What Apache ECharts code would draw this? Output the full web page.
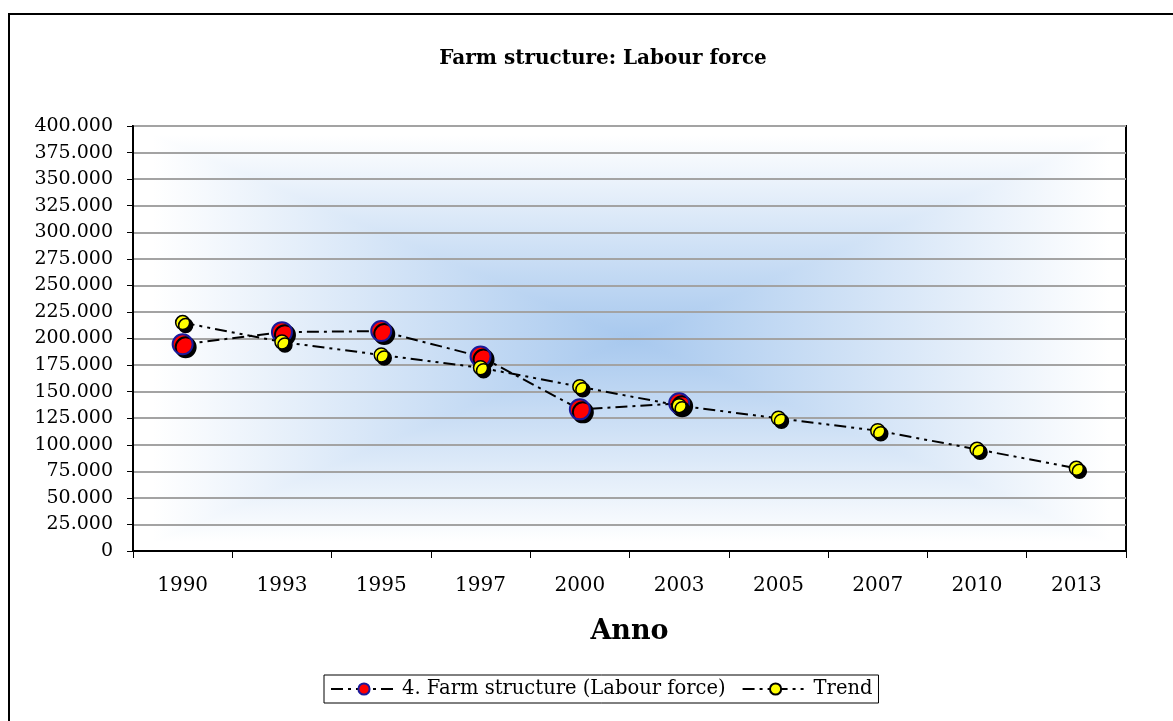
<!DOCTYPE html>
<html>
<head>
<meta charset="utf-8">
<script src="https://cdn.jsdelivr.net/npm/echarts@6/dist/echarts.min.js"></script>
<style>
html,body{margin:0;padding:0;background:#fff;}
#chart{width:1173px;height:721px;}
</style>
</head>
<body>
<div id="chart"></div>
<script>
// ---- data ----
var years = ['1990','1993','1995','1997','2000','2003','2005','2007','2010','2013'];
var labourForce = [194500, 206000, 207000, 183000, 133300, 139000, null, null, null, null];
var trend = [215000, 196700, 184500, 172500, 154600, 136800, 124900, 113200, 95700, 77800];
var yTicks = {min: 0, max: 400000, interval: 25000};
var titleText = 'Farm structure: Labour force';
var xName = 'Anno';
var seriesNames = ['4. Farm structure (Labour force)', 'Trend'];

// ---- layout ----
var G = {left: 133, top: 126, width: 993, height: 425};
var FONT = '"DejaVu Serif", "Liberation Serif", serif';
var BLUE = '#A7C8EE';

function fmt(v) {
  return String(v).replace(/\B(?=(\d{3})+(?!\d))/g, '.');
}

// rectangular "path" gradient built from four triangles
var L = G.left + 20, R = G.left + G.width - 17, T = G.top + 9, B = G.top + G.height - 9;
var cx = (L + R) / 2, cy = (T + B) / 2;
function lg(x, y, x2, y2, c0, c1) {
  return {type: 'linear', x: x, y: y, x2: x2, y2: y2,
    colorStops: [{offset: 0, color: c0}, {offset: 1, color: c1}]};
}
function tri(pts, g) {
  return {type: 'polygon', z: -10, silent: true, shape: {points: pts},
    style: {fill: g, stroke: g, lineWidth: 1}};
}
var bg = [
  tri([[L, T], [R, T], [cx, cy]], lg(0, 0, 0, 1, '#FFFFFF', BLUE)),
  tri([[L, B], [R, B], [cx, cy]], lg(0, 1, 0, 0, '#FFFFFF', BLUE)),
  tri([[L, T], [L, B], [cx, cy]], lg(0, 0, 1, 0, '#FFFFFF', BLUE)),
  tri([[R, T], [R, B], [cx, cy]], lg(1, 0, 0, 0, '#FFFFFF', BLUE)),
  {type: 'rect', z: -5, silent: true, shape: {x: 9, y: 14, width: 1300, height: 900},
   style: {fill: null, stroke: '#000', lineWidth: 2}}
];

var chart = echarts.init(document.getElementById('chart'), null, {renderer: 'canvas'});
chart.setOption({
  animation: false,
  backgroundColor: '#fff',
  graphic: bg,
  title: {
    text: titleText, left: 598, top: 44, textAlign: 'center',
    textStyle: {fontFamily: FONT, fontWeight: 'bold', fontSize: 20, color: '#000'}
  },
  legend: {
    left: 324, top: 675, padding: [4, 6], itemGap: 16,
    itemWidth: 66, itemHeight: 14,
    borderColor: '#000', borderWidth: 1, backgroundColor: '#fff',
    textStyle: {fontFamily: FONT, fontSize: 19.5, color: '#000'},
    itemStyle: {shadowColor: 'rgba(0,0,0,0)', shadowOffsetX: 0, shadowOffsetY: 0},
    data: seriesNames
  },
  grid: {
    left: G.left, top: G.top, width: G.width, height: G.height,
    show: true, borderColor: '#000', borderWidth: 2, backgroundColor: 'transparent'
  },
  xAxis: {
    type: 'category', data: years, boundaryGap: true,
    name: xName, nameLocation: 'middle', nameGap: 67,
    nameTextStyle: {fontFamily: FONT, fontWeight: 'bold', fontSize: 27, color: '#000'},
    axisLine: {lineStyle: {color: '#000', width: 2}},
    axisTick: {show: true, length: 7, lineStyle: {color: '#000', width: 1}},
    axisLabel: {fontFamily: FONT, fontSize: 20, color: '#000', margin: 25},
    splitLine: {show: false}
  },
  yAxis: {
    type: 'value', min: yTicks.min, max: yTicks.max, interval: yTicks.interval,
    axisLine: {show: true, lineStyle: {color: '#000', width: 2}},
    axisTick: {show: true, length: 6, lineStyle: {color: '#000', width: 1}},
    axisLabel: {fontFamily: FONT, fontSize: 19, color: '#000', margin: 20, formatter: fmt},
    splitLine: {show: true, lineStyle: {color: '#A3A3A3', width: 2}}
  },
  series: [
    {
      name: seriesNames[0], type: 'line', data: labourForce, z: 3,
      symbol: 'circle', symbolSize: 20,
      lineStyle: {color: '#000', width: 2, type: [12, 5, 3, 5]},
      itemStyle: {color: '#FF0000', borderColor: '#1A1A9A', borderWidth: 2,
        shadowColor: '#000', shadowOffsetX: 3, shadowOffsetY: 3, shadowBlur: 0}
    },
    {
      name: seriesNames[1], type: 'line', data: trend, z: 4,
      symbol: 'circle', symbolSize: 14,
      lineStyle: {color: '#000', width: 2, type: [12, 5, 3, 5, 3, 5]},
      itemStyle: {color: '#FFFF00', borderColor: '#000', borderWidth: 1.5,
        shadowColor: '#000', shadowOffsetX: 3, shadowOffsetY: 3, shadowBlur: 0}
    }
  ]
});
</script>
</body>
</html>
